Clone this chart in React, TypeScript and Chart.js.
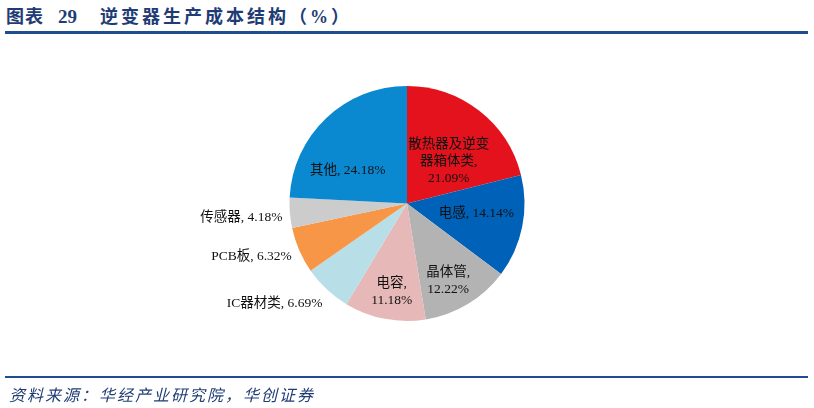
import React, { useEffect, useRef } from "react";
import { Chart, registerables } from "chart.js";

Chart.register(...registerables);

const categories: string[][] = [
  ["散热器及逆变", "器箱体类,"],
  ["电感,"],
  ["晶体管,"],
  ["电容,"],
  ["IC器材类,"],
  ["PCB板,"],
  ["传感器,"],
  ["其他,"],
];
const values: number[] = [21.09, 14.14, 12.22, 11.18, 6.69, 6.32, 4.18, 24.18];
const colors: string[] = [
  "#E3121D",
  "#0061B8",
  "#B3B3B3",
  "#E6B9B8",
  "#B8DEE8",
  "#F79646",
  "#CCCCCC",
  "#0A88D0",
];

// label placement in units of the pie radius, relative to the pie centre
// mode: "stack" = name lines then value line; "inline" = name + value on one line
const labelPlacement = [
  { dx: 0.355, dy: -0.355, align: "center", mode: "stack" },
  { dx: 0.59, dy: 0.084, align: "center", mode: "inline" },
  { dx: 0.35, dy: 0.66, align: "center", mode: "stack" },
  { dx: -0.13, dy: 0.756, align: "center", mode: "stack" },
  { dx: -0.72, dy: 0.85, align: "right", mode: "inline" },
  { dx: -0.98, dy: 0.45, align: "right", mode: "inline" },
  { dx: -1.06, dy: 0.115, align: "right", mode: "inline" },
  { dx: -0.504, dy: -0.28, align: "center", mode: "inline" },
];

const labelPlugin = {
  id: "sliceLabels",
  afterDatasetsDraw(chart: any) {
    const ctx = chart.ctx as CanvasRenderingContext2D;
    const meta = chart.getDatasetMeta(0);
    ctx.save();
    ctx.font = '13.5px "Liberation Serif", "Noto Sans CJK SC", serif';
    ctx.fillStyle = "#111";
    ctx.textBaseline = "middle";
    meta.data.forEach((arc: any, i: number) => {
      const { x, y, outerRadius } = arc.getProps(["x", "y", "outerRadius"], true);
      const p = labelPlacement[i];
      const px = x + p.dx * outerRadius;
      const py = y + p.dy * outerRadius;
      const val = values[i].toFixed(2) + "%";
      ctx.textAlign = p.align as CanvasTextAlign;
      let lines: string[];
      if (p.mode === "inline") {
        lines = [categories[i].join("") + " " + val];
      } else {
        lines = [...categories[i], val];
      }
      const lh = 17;
      const startY = py - ((lines.length - 1) * lh) / 2;
      lines.forEach((t, k) => ctx.fillText(t, px, startY + k * lh));
    });
    ctx.restore();
  },
};

export default function App() {
  const ref = useRef<HTMLCanvasElement>(null);
  useEffect(() => {
    document.body.style.margin = "0";
    const chart = new Chart(ref.current!, {
      type: "pie",
      data: {
        labels: categories.map((c) => c.join("")),
        datasets: [
          {
            data: values,
            backgroundColor: colors,
            borderWidth: 0,
          },
        ],
      },
      options: {
        animation: false,
        responsive: false,
        maintainAspectRatio: false,
        layout: { padding: { top: 86, bottom: 87, left: 0, right: 0 } },
        plugins: {
          legend: { display: false },
          tooltip: { enabled: false },
        },
      },
      plugins: [labelPlugin],
    });
    return () => chart.destroy();
  }, []);

  const titleFont = '"Liberation Serif", "Noto Sans CJK SC", serif';
  const titleBase: React.CSSProperties = {
    position: "absolute",
    top: 5,
    fontFamily: titleFont,
    fontWeight: "bold",
    fontSize: 18,
    lineHeight: "24px",
    color: "#1F3C74",
    whiteSpace: "pre",
  };

  return (
    <div style={{ position: "relative", width: 814, height: 408, background: "#fff", overflow: "hidden" }}>
      <div style={{ ...titleBase, left: 6, letterSpacing: 1 }}>图表</div>
      <div style={{ ...titleBase, left: 58, fontSize: 19 }}>29</div>
      <div style={{ ...titleBase, left: 100, letterSpacing: 3 }}>逆变器生产成本结构（%）</div>
      <div style={{ position: "absolute", left: 5, top: 31, width: 803, height: 2.5, background: "#1F4E8F" }} />
      <canvas ref={ref} width={814} height={408} style={{ position: "absolute", left: 0, top: 0 }} />
      <div style={{ position: "absolute", left: 5, top: 376, width: 803, height: 2, background: "#1F4E8F" }} />
      <div
        style={{
          position: "absolute",
          left: 9,
          top: 383,
          fontFamily: '"Noto Sans CJK SC", sans-serif',
          fontStyle: "italic",
          fontSize: 16,
          lineHeight: "22px",
          letterSpacing: 2,
          color: "#1F3C74",
          whiteSpace: "pre",
        }}
      >
        资料来源：华经产业研究院，华创证券
      </div>
    </div>
  );
}
